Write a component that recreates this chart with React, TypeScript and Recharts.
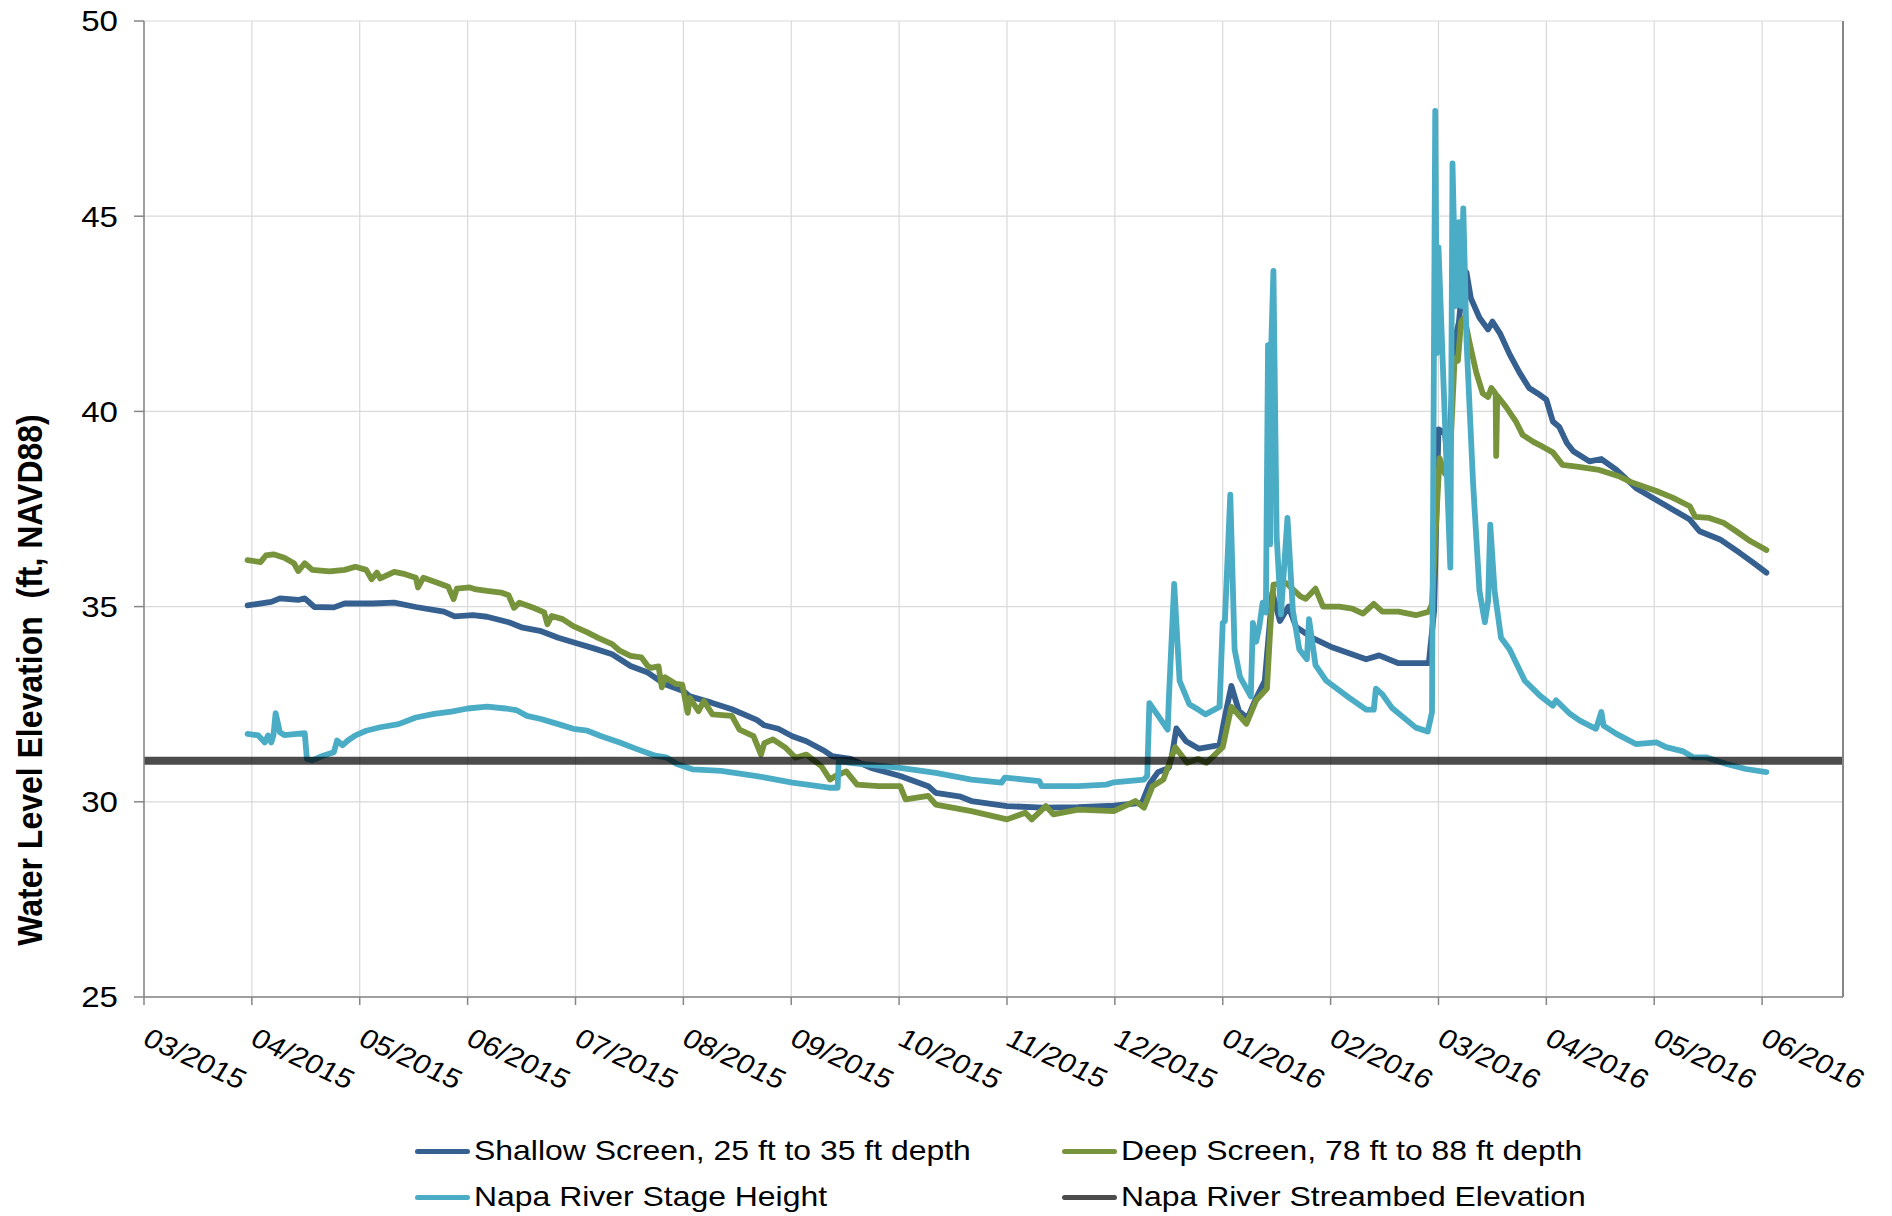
import { LineChart, Line, XAxis, YAxis, CartesianGrid } from 'recharts'

// x positions are months counted from 03/2015 (0 = 03/2015, 15 = 06/2016)
const monthLabels = [
    '03/2015', '04/2015', '05/2015', '06/2015', '07/2015', '08/2015', '09/2015', '10/2015',
    '11/2015', '12/2015', '01/2016', '02/2016', '03/2016', '04/2016', '05/2016', '06/2016',
]
const monthTicks = monthLabels.map((_l, i) => i)
const xMax = 15.75
const levelTicks = [25, 30, 35, 40, 45, 50]

const shallowMonth = [
    0.96, 1.18, 1.26, 1.43, 1.49, 1.58, 1.76, 1.86, 2.12, 2.32, 2.52, 2.78, 2.88, 3.05, 3.18, 3.38,
    3.51, 3.67, 3.84, 4.01, 4.17, 4.34, 4.51, 4.67, 4.83, 5.0, 5.06, 5.26, 5.45, 5.68, 5.75, 5.88,
    6.01, 6.14, 6.31, 6.38, 6.55, 6.74, 7.01, 7.27, 7.34, 7.57, 7.67, 8.0, 8.33, 8.66, 8.99, 9.25,
    9.32, 9.4, 9.5, 9.53, 9.57, 9.66, 9.78, 9.97, 10.01, 10.08, 10.15, 10.23, 10.3, 10.39, 10.46,
    10.53, 10.61, 10.68, 10.83, 11.02, 11.33, 11.45, 11.63, 11.91, 11.96, 12.0, 12.06, 12.09,
    12.15, 12.19, 12.23, 12.26, 12.3, 12.38, 12.46, 12.5, 12.57, 12.66, 12.75, 12.84, 12.92, 13.0,
    13.06, 13.12, 13.19, 13.25, 13.4, 13.51, 13.65, 13.83, 14.0, 14.17, 14.33, 14.42, 14.61,
    14.79, 14.92, 15.04,
]
const shallowLevel = [
    35.03, 35.12, 35.21, 35.17, 35.21, 34.99, 34.98, 35.08, 35.08, 35.1, 34.99, 34.87, 34.75,
    34.78, 34.74, 34.6, 34.46, 34.38, 34.2, 34.06, 33.93, 33.78, 33.48, 33.31, 33.01, 32.84, 32.7,
    32.54, 32.37, 32.1, 31.96, 31.87, 31.68, 31.55, 31.3, 31.17, 31.1, 30.87, 30.66, 30.4, 30.23,
    30.13, 30.02, 29.89, 29.85, 29.86, 29.9, 29.97, 30.45, 30.76, 30.87, 31.2, 31.88, 31.55, 31.36,
    31.45, 32.04, 32.97, 32.33, 32.14, 32.6, 33.1, 35.36, 34.63, 35.0, 34.48, 34.2, 33.95, 33.65,
    33.75, 33.55, 33.55, 34.9, 39.54, 39.45, 38.6, 41.8, 42.3, 43.5, 43.56, 42.9, 42.4, 42.1, 42.3,
    42.0, 41.46, 41.0, 40.6, 40.46, 40.3, 39.74, 39.6, 39.19, 38.98, 38.72, 38.78, 38.5, 38.04,
    37.76, 37.49, 37.23, 36.93, 36.72, 36.38, 36.12, 35.87,
]

const deepMonth = [
    0.96, 1.08, 1.13, 1.2, 1.3, 1.39, 1.43, 1.49, 1.56, 1.72, 1.86, 1.96, 2.06, 2.11, 2.16, 2.19,
    2.32, 2.42, 2.52, 2.54, 2.59, 2.72, 2.82, 2.87, 2.9, 3.02, 3.08, 3.18, 3.31, 3.38, 3.43, 3.48,
    3.61, 3.71, 3.74, 3.78, 3.88, 3.98, 4.11, 4.21, 4.34, 4.41, 4.51, 4.61, 4.67, 4.7, 4.77, 4.8,
    4.83, 4.93, 4.99, 5.04, 5.06, 5.14, 5.19, 5.27, 5.45, 5.52, 5.65, 5.72, 5.75, 5.83, 5.95, 6.04,
    6.14, 6.28, 6.36, 6.41, 6.51, 6.61, 6.81, 7.01, 7.06, 7.27, 7.34, 7.67, 8.0, 8.17, 8.23, 8.36,
    8.43, 8.66, 8.99, 9.19, 9.27, 9.35, 9.45, 9.56, 9.67, 9.77, 9.85, 10.0, 10.08, 10.22, 10.31,
    10.41, 10.44, 10.47, 10.59, 10.72, 10.77, 10.86, 10.93, 11.08, 11.2, 11.3, 11.4, 11.48, 11.63,
    11.79, 11.91, 11.94, 11.98, 12.01, 12.06, 12.1, 12.15, 12.18, 12.21, 12.24, 12.29, 12.35,
    12.41, 12.46, 12.49, 12.53, 12.535, 12.545, 12.63, 12.72, 12.78, 12.88, 12.97, 13.06, 13.15,
    13.3, 13.49, 13.68, 13.8, 14.02, 14.17, 14.33, 14.38, 14.51, 14.64, 14.76, 14.89, 15.04,
]
const deepLevel = [
    36.19, 36.14, 36.31, 36.34, 36.25, 36.11, 35.91, 36.11, 35.94, 35.9, 35.94, 36.02, 35.94, 35.7,
    35.87, 35.72, 35.89, 35.83, 35.74, 35.49, 35.74, 35.61, 35.51, 35.19, 35.46, 35.49, 35.44, 35.4,
    35.36, 35.29, 34.97, 35.1, 34.97, 34.85, 34.55, 34.76, 34.68, 34.5, 34.34, 34.2, 34.04, 33.87,
    33.74, 33.7, 33.48, 33.43, 33.47, 32.93, 33.19, 33.02, 33.0, 32.28, 32.66, 32.32, 32.58, 32.24,
    32.2, 31.85, 31.68, 31.21, 31.5, 31.6, 31.38, 31.13, 31.21, 30.91, 30.57, 30.66, 30.78, 30.44,
    30.4, 30.4, 30.06, 30.15, 29.93, 29.76, 29.55, 29.72, 29.55, 29.89, 29.68, 29.8, 29.76, 30.02,
    29.85, 30.4, 30.57, 31.4, 31.0, 31.1, 31.0, 31.4, 32.43, 32.0, 32.6, 32.9, 34.4, 35.56, 35.6,
    35.26, 35.2, 35.46, 35.0, 35.0, 34.95, 34.82, 35.07, 34.87, 34.87, 34.78, 34.87, 35.06, 37.26,
    38.8, 38.4, 38.4, 41.37, 41.3, 42.3, 42.4, 41.74, 41.0, 40.46, 40.37, 40.6, 40.45, 38.86, 40.4,
    40.1, 39.73, 39.4, 39.22, 39.09, 38.95, 38.63, 38.58, 38.5, 38.33, 38.17, 37.96, 37.79, 37.57,
    37.3, 37.27, 37.15, 36.93, 36.68, 36.45,
]

const stageMonth = [
    0.96, 1.06, 1.12, 1.15, 1.18, 1.2, 1.22, 1.26, 1.3, 1.49, 1.51, 1.56, 1.66, 1.76, 1.79, 1.84,
    1.89, 1.96, 2.06, 2.19, 2.36, 2.52, 2.69, 2.85, 3.0, 3.18, 3.35, 3.45, 3.55, 3.68, 3.84, 3.98,
    4.11, 4.24, 4.41, 4.57, 4.74, 4.84, 4.94, 5.09, 5.35, 5.68, 6.01, 6.35, 6.43, 6.44, 6.55, 7.01,
    7.34, 7.67, 7.95, 7.98, 8.3, 8.32, 8.66, 8.92, 8.99, 9.27, 9.3, 9.32, 9.49, 9.5, 9.55, 9.6,
    9.69, 9.78, 9.84, 9.97, 10.0, 10.02, 10.07, 10.11, 10.16, 10.26, 10.28, 10.31, 10.34, 10.37,
    10.4, 10.42, 10.44, 10.45, 10.47, 10.5, 10.54, 10.6, 10.65, 10.71, 10.78, 10.8, 10.86, 10.96,
    11.17, 11.33, 11.4, 11.42, 11.48, 11.57, 11.79, 11.9, 11.94, 11.97, 11.985, 12.0, 12.11, 12.13,
    12.16, 12.19, 12.21, 12.23, 12.26, 12.32, 12.38, 12.43, 12.46, 12.48, 12.52, 12.58, 12.66,
    12.8, 12.94, 13.06, 13.09, 13.22, 13.31, 13.46, 13.51, 13.53, 13.65, 13.83, 14.02, 14.11,
    14.27, 14.36, 14.48, 14.67, 14.85, 15.04,
]
const stageLevel = [
    31.74, 31.7, 31.52, 31.7, 31.52, 31.7, 32.27, 31.78, 31.71, 31.76, 31.1, 31.06, 31.18, 31.27,
    31.57, 31.45, 31.57, 31.7, 31.82, 31.91, 31.99, 32.16, 32.25, 32.31, 32.39, 32.44, 32.39, 32.35,
    32.2, 32.12, 31.99, 31.87, 31.82, 31.68, 31.52, 31.35, 31.18, 31.14, 30.97, 30.83, 30.79, 30.66,
    30.49, 30.36, 30.36, 31.04, 31.0, 30.87, 30.74, 30.57, 30.49, 30.62, 30.53, 30.4, 30.4, 30.44,
    30.5, 30.57, 30.66, 32.53, 31.85, 32.6, 35.58, 33.1, 32.5, 32.35, 32.24, 32.43, 34.58, 34.63,
    37.87, 33.9, 33.2, 32.7, 34.58, 34.1, 34.5, 35.1, 34.85, 41.7, 36.6, 41.7, 43.6, 36.8, 34.8,
    37.27, 34.9, 33.9, 33.65, 34.68, 33.5, 33.1, 32.67, 32.36, 32.36, 32.9, 32.75, 32.4, 31.9, 31.8,
    32.3, 47.7, 41.5, 44.2, 36.0, 46.35, 42.7, 44.85, 42.7, 45.2, 41.8, 38.2, 35.4, 34.6, 35.15,
    37.1, 35.4, 34.2, 33.9, 33.1, 32.72, 32.46, 32.6, 32.25, 32.08, 31.87, 32.3, 31.95, 31.74, 31.48,
    31.52, 31.4, 31.29, 31.14, 31.14, 30.97, 30.84, 30.76,
]

const streambedLevel = 31.05

const toPoints = (months: number[], levels: number[]) => months.map((m, i) => ({ m, v: levels[i] }))

const series = [
    { name: 'Shallow Screen, 25 ft to 35 ft depth', color: '#35608f', width: 5.8, opacity: 1, data: toPoints(shallowMonth, shallowLevel) },
    { name: 'Deep Screen, 78 ft to 88 ft depth', color: '#77933c', width: 5.8, opacity: 1, data: toPoints(deepMonth, deepLevel) },
    { name: 'Napa River Stage Height', color: '#4bacc6', width: 5.8, opacity: 1, data: toPoints(stageMonth, stageLevel) },
    { name: 'Napa River Streambed Elevation', color: '#000000', width: 8, opacity: 0.7, data: toPoints([0, xMax], [streambedLevel, streambedLevel]) },
]

const FONT = '"Liberation Sans", Arial, sans-serif'
const AXIS_GREY = '#868686'
// the source picture is a little wider than tall, so text is drawn stretched sideways
const STRETCH = 1.14

function MonthTick({ x, y, payload }: any) {
    return (
        <text
            transform={`translate(${x - 3}, ${y + 39}) scale(${STRETCH}, 1) rotate(28)`}
            fontFamily={FONT}
            fontSize={27}
            fill="#000"
            textAnchor="start"
        >
            {monthLabels[payload.value]}
        </text>
    )
}

function LevelTick({ x, y, payload }: any) {
    return (
        <text
            transform={`translate(${x}, ${y}) scale(${STRETCH}, 1)`}
            dy="0.355em"
            fontFamily={FONT}
            fontSize={29}
            fill="#000"
            textAnchor="end"
        >
            {payload.value}
        </text>
    )
}

function YTitle() {
    return (
        <text
            transform={`translate(42, 680) scale(1.1, 1) rotate(-90)`}
            textAnchor="middle"
            fontFamily={FONT}
            fontSize={32}
            fontWeight="bold"
            fill="#000"
        >
            {'Water Level Elevation \u00a0(ft, NAVD88)'}
        </text>
    )
}

const legendSlots = [
    { left: 415, top: 1151 },
    { left: 1062, top: 1151 },
    { left: 415, top: 1197 },
    { left: 1062, top: 1197 },
]

export default function App() {
    return (
        <div
            style={{
                position: 'absolute',
                left: 0,
                top: 0,
                width: 1892,
                height: 1216,
                background: '#fff',
                fontFamily: FONT,
                overflow: 'hidden',
            }}
        >
            <LineChart width={1892} height={1216} margin={{ top: 21, right: 48, left: 44, bottom: 119 }}>
                <CartesianGrid stroke="#d9d9d9" strokeWidth={1.2} />
                <XAxis
                    dataKey="m"
                    type="number"
                    domain={[0, xMax]}
                    ticks={monthTicks}
                    interval={0}
                    allowDataOverflow
                    height={100}
                    tickSize={8}
                    tickMargin={0}
                    tick={<MonthTick />}
                    axisLine={{ stroke: AXIS_GREY, strokeWidth: 1.5 }}
                    tickLine={{ stroke: AXIS_GREY, strokeWidth: 1.5 }}
                />
                <YAxis
                    type="number"
                    domain={[25, 50]}
                    ticks={levelTicks}
                    interval={0}
                    allowDataOverflow
                    width={100}
                    tickSize={10}
                    tickMargin={16}
                    tick={<LevelTick />}
                    axisLine={{ stroke: AXIS_GREY, strokeWidth: 1.5 }}
                    tickLine={{ stroke: AXIS_GREY, strokeWidth: 1.5 }}
                    label={<YTitle />}
                />
                <YAxis
                    yAxisId="right"
                    orientation="right"
                    type="number"
                    domain={[25, 50]}
                    width={1}
                    tick={false}
                    tickLine={false}
                    axisLine={{ stroke: AXIS_GREY, strokeWidth: 2 }}
                />
                {series.map((s) => (
                    <Line
                        key={s.name}
                        data={s.data}
                        dataKey="v"
                        name={s.name}
                        type="linear"
                        stroke={s.color}
                        strokeWidth={s.width}
                        strokeOpacity={s.opacity}
                        strokeLinejoin="round"
                        strokeLinecap="round"
                        dot={false}
                        activeDot={false}
                        isAnimationActive={false}
                    />
                ))}
            </LineChart>
            {series.map((s, i) => (
                <div
                    key={s.name}
                    style={{
                        position: 'absolute',
                        left: legendSlots[i].left,
                        top: legendSlots[i].top - 20,
                        height: 40,
                        display: 'flex',
                        alignItems: 'center',
                        whiteSpace: 'nowrap',
                        fontSize: 28,
                        color: '#000',
                    }}
                >
                    <span
                        style={{
                            display: 'inline-block',
                            width: 55,
                            height: 5,
                            borderRadius: 3,
                            background: s.color,
                            opacity: s.opacity,
                            marginRight: 4,
                        }}
                    />
                    <span
                        style={{
                            display: 'inline-block',
                            transform: `scaleX(${STRETCH})`,
                            transformOrigin: 'left center',
                        }}
                    >
                        {s.name}
                    </span>
                </div>
            ))}
        </div>
    )
}
